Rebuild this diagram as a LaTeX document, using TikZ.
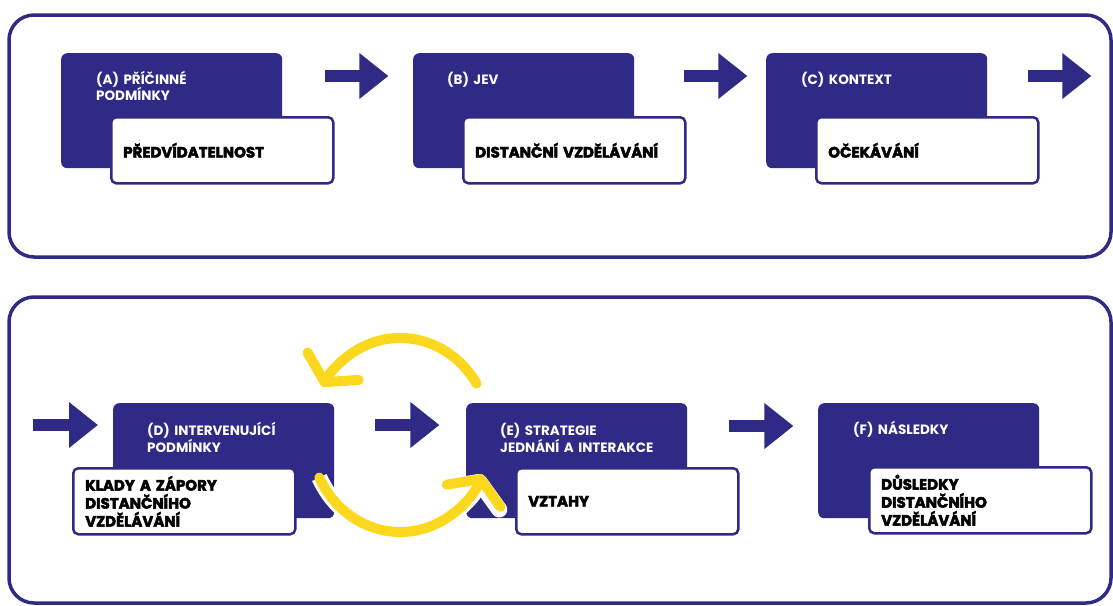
\documentclass[tikz,border=0pt]{standalone}
\usepackage{fontspec}
\setmainfont{Poppins}
\newfontfamily\heavyfont[BoldFeatures={FakeBold=3}]{Poppins}
\usepackage{tikz}
\usetikzlibrary{calc,arrows.meta}
\definecolor{navy}{HTML}{2E2A86}
\definecolor{sun}{HTML}{FBD71E}

\begin{document}
\begin{tikzpicture}[x=1pt,y=-1pt]
	\useasboundingbox (0,0) rectangle (1113,605);
	\tikzstyle{frame} = [draw=navy, line width=3.5pt, rounded corners=25pt]
	\tikzstyle{darkbox} = [fill=navy, rounded corners=6pt, minimum width=221pt, minimum height=115pt, anchor=north west, inner sep=0pt]
	\tikzstyle{whitebox} = [draw=navy, line width=2.5pt, fill=white, rounded corners=5pt, minimum width=222pt, minimum height=66pt, text width=198pt, inner xsep=12pt, inner ysep=0pt, align=left, anchor=north west, font=\heavyfont\bfseries\fontsize{15}{18}\selectfont]
	\tikzstyle{headtext} = [text=white, text width=185pt, inner sep=0pt, align=left, anchor=base west, font=\bfseries\fontsize{13.5}{15.5}\selectfont]
	\tikzstyle{flow} = [draw=navy, line width=12pt, -{Triangle[length=29pt, width=44pt]}]
	\tikzstyle{cycle} = [draw=sun, line width=10pt, line cap=round, -{Straight Barb[length=18pt, width=58pt, round]}, preaction={draw=white, line width=16pt}]

	% frames
	\draw[frame] (9,15) rectangle (1111,257);
	\draw[frame] (9,297) rectangle (1111,603);

	% upper row
	\node[darkbox] (A) at (61,53) {};
	\node[headtext] (A-h) at ($(A.north west)+(35,31)$) {(A) PŘÍČINNÉ\\PODMÍNKY};
	\node[whitebox] (A-w) at ($(A.north west)+(49,63)$) {PŘEDVÍDATELNOST};

	\node[darkbox] (B) at (413,53) {};
	\node[headtext] (B-h) at ($(B.north west)+(34,31)$) {(B) JEV};
	\node[whitebox] (B-w) at ($(B.north west)+(49,63)$) {DISTANČNÍ VZDĚLÁVÁNÍ};

	\node[darkbox] (C) at (766,53) {};
	\node[headtext] (C-h) at ($(C.north west)+(35,31)$) {(C) KONTEXT};
	\node[whitebox] (C-w) at ($(C.north west)+(49,63)$) {OČEKÁVÁNÍ};

	\draw[flow] ($(A.north east)+(43,23)$) -- ++(63,0);
	\draw[flow] ($(B.north east)+(50,23)$) -- ++(63,0);
	\draw[flow] ($(C.north east)+(41,23)$) -- ++(63,0);

	% lower row
	\node[darkbox] (D) at (113,403) {};
	\node[headtext] (D-h) at ($(D.north west)+(34,32)$) {(D) INTERVENUJÍCÍ\\PODMÍNKY};
	\node[whitebox] (D-w) at ($(D.north west)+(-41,64)$) {KLADY A ZÁPORY\\DISTANČNÍHO\\VZDĚLÁVÁNÍ};

	\node[darkbox] (E) at (466,403) {};
	\node[headtext] (E-h) at ($(E.north west)+(34,32)$) {(E) STRATEGIE\\JEDNÁNÍ A INTERAKCE};
	\node[whitebox] (E-w) at ($(E.north west)+(49,64)$) {VZTAHY};

	\node[darkbox] (F) at (818,403) {};
	\node[headtext] (F-h) at ($(F.north west)+(35,31)$) {(F) NÁSLEDKY};
	\node[whitebox] (F-w) at ($(F.north west)+(50,63)$) {DŮSLEDKY\\DISTANČNÍHO\\VZDĚLÁVÁNÍ};

	\draw[flow] ($(D.north west)+(-80,22)$) -- ++(65,0);
	\draw[flow] ($(D.north east)+(41,22)$) -- ++(64,0);
	\draw[flow] ($(E.north east)+(42,23)$) -- ++(64,0);

	% loop between D and E
	\coordinate (loop) at ($(D.north east)!0.5!(E.north west)+(0,32)$);
	\draw[cycle] ($(loop)+(-32:90 and 97)$) arc[start angle=-32, end angle=-150, x radius=90, y radius=97];
	\draw[cycle] ($(loop)+(154:90 and 97)$) arc[start angle=154, end angle=24, x radius=90, y radius=97];
\end{tikzpicture}
\end{document}
